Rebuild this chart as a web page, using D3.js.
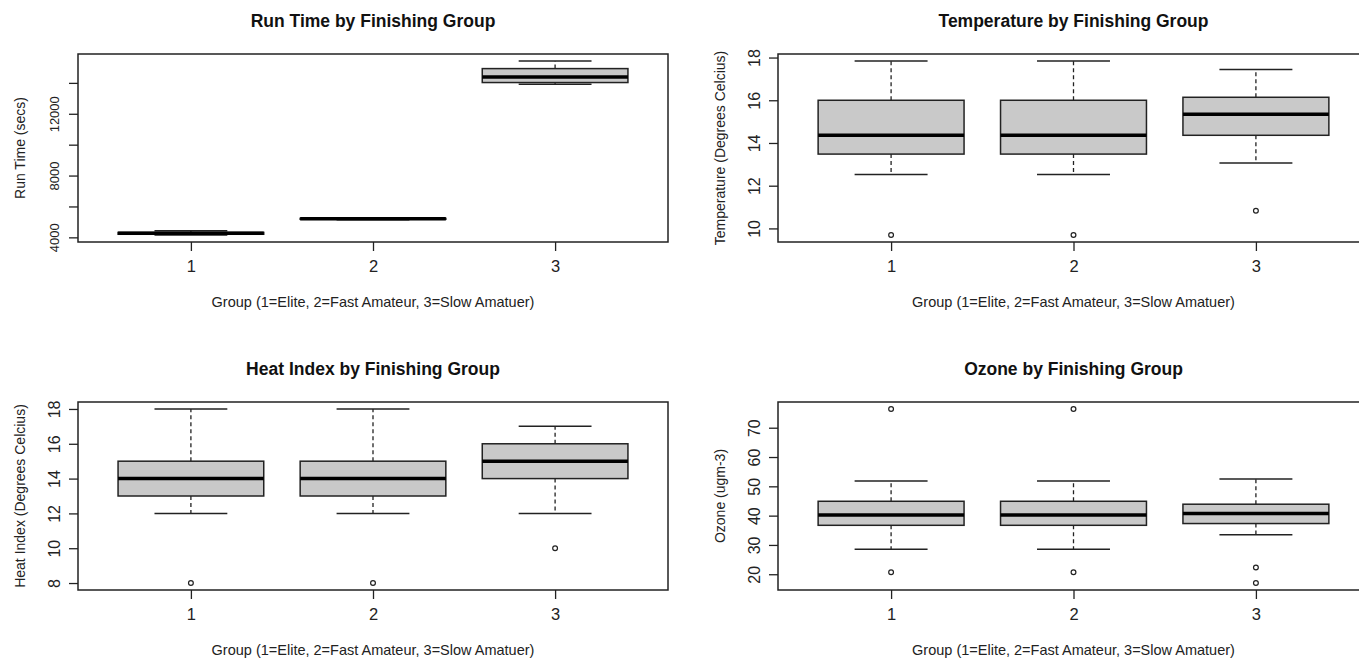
<!DOCTYPE html>
<html>
<head>
<meta charset="utf-8">
<script src="https://cdn.jsdelivr.net/npm/d3@7"></script>
<style>
  body { margin: 0; background: #fff; }
  svg { display: block; font-family: "Liberation Sans", Arial, sans-serif; }
</style>
</head>
<body>
<div id="chart"></div>
<script>
// groups on the x axis
const groups = [1, 2, 3];
const xTitle = "Group (1=Elite, 2=Fast Amateur, 3=Slow Amatuer)";

// box stats per group: [lower whisker, Q1, median, Q3, upper whisker]
const runTimeStats = [[4150, 4200, 4260, 4320, 4430], [5140, 5170, 5200, 5230, 5260], [13914, 14022, 14387, 14925, 15419]];
const runTimeOutliers = [[], [], []];
const runTimeTicks = [4000, 6000, 8000, 10000, 12000, 14000];
const runTimeTickLabels = ["4000", "", "8000", "", "12000", ""];

const tempStats = [[12.53, 13.48, 14.36, 16.0, 17.84], [12.53, 13.48, 14.36, 16.0, 17.84], [13.06, 14.36, 15.34, 16.14, 17.44]];
const tempOutliers = [[9.69], [9.69], [10.83]];
const tempTicks = [10, 12, 14, 16, 18];

const heatStats = [[12, 13, 14, 15, 18], [12, 13, 14, 15, 18], [12, 14, 15, 16, 17]];
const heatOutliers = [[8], [8], [10]];
const heatTicks = [8, 10, 12, 14, 16, 18];

const ozoneStats = [[28.5, 36.7, 40.2, 44.9, 51.8], [28.5, 36.7, 40.2, 44.9, 51.8], [33.5, 37.3, 40.7, 43.9, 52.5]];
const ozoneOutliers = [[76.4, 20.7], [76.4, 20.7], [22.3, 17.0]];
const ozoneTicks = [20, 30, 40, 50, 60, 70];

const W = 1359, H = 659;

const panels = [
  {title: "Run Time by Finishing Group", ylab: "Run Time (secs)", stats: runTimeStats, out: runTimeOutliers,
   ticks: runTimeTicks, labels: runTimeTickLabels, tickFont: 13, x: [78, 668], y: [242, 54]},
  {title: "Temperature by Finishing Group", ylab: "Temperature (Degrees Celcius)", stats: tempStats, out: tempOutliers,
   ticks: tempTicks, tickFont: 16, x: [778, 1369], y: [242, 54]},
  {title: "Heat Index by Finishing Group", ylab: "Heat Index (Degrees Celcius)", stats: heatStats, out: heatOutliers,
   ticks: heatTicks, tickFont: 16, x: [78, 668], y: [590, 402]},
  {title: "Ozone by Finishing Group", ylab: "Ozone (ugm-3)", stats: ozoneStats, out: ozoneOutliers,
   ticks: ozoneTicks, tickFont: 16, x: [778, 1369], y: [590, 402]}
];

const svg = d3.select("#chart").append("svg")
  .attr("width", W)
  .attr("height", H);

svg.append("rect").attr("width", W).attr("height", H).attr("fill", "#fff");

// R style range: data extent widened by 4%
const pad4 = ([a, b]) => [a - (b - a) * 0.04, b + (b - a) * 0.04];

panels.forEach(p => {
  const g = svg.append("g");
  const all = p.stats.flat().concat(p.out.flat());
  const y = d3.scaleLinear().domain(pad4(d3.extent(all))).range(p.y);
  const x = d3.scaleLinear().domain(pad4([0.5, groups.length + 0.5])).range(p.x);
  const bw = (x(2) - x(1)) * 0.8;
  const [top, bottom] = [p.y[1], p.y[0]];
  const [left, right] = p.x;

  // y axis
  const yAxis = d3.axisLeft(y)
    .tickValues(p.ticks)
    .tickSize(9)
    .tickFormat((d, i) => p.labels ? p.labels[i] : d);
  const ya = g.append("g").attr("transform", `translate(${left},0)`).call(yAxis);
  ya.select(".domain").remove();
  ya.selectAll("line").attr("stroke", "#222").attr("stroke-width", 1.3);
  ya.selectAll("text")
    .attr("x", null).attr("dy", "0.35em")
    .attr("text-anchor", "middle")
    .attr("transform", "translate(-24,0) rotate(-90)")
    .attr("font-size", p.tickFont)
    .attr("fill", "#222");

  // x axis
  const xAxis = d3.axisBottom(x).tickValues(groups).tickSize(9).tickFormat(d3.format("d"));
  const xa = g.append("g").attr("transform", `translate(0,${bottom})`).call(xAxis);
  xa.select(".domain").remove();
  xa.selectAll("line").attr("stroke", "#222").attr("stroke-width", 1.3);
  xa.selectAll("text").attr("y", 24).attr("dy", "0.35em").attr("font-size", 16.5).attr("fill", "#222");

  // boxes
  const bx = g.selectAll(".bx").data(p.stats).enter().append("g").attr("class", "bx");
  bx.append("line") // upper whisker
    .attr("x1", (d, i) => x(groups[i])).attr("x2", (d, i) => x(groups[i]))
    .attr("y1", d => y(d[3])).attr("y2", d => y(d[4]))
    .attr("stroke", "#222").attr("stroke-width", 1.3).attr("stroke-dasharray", "4,3");
  bx.append("line") // lower whisker
    .attr("x1", (d, i) => x(groups[i])).attr("x2", (d, i) => x(groups[i]))
    .attr("y1", d => y(d[1])).attr("y2", d => y(d[0]))
    .attr("stroke", "#222").attr("stroke-width", 1.3).attr("stroke-dasharray", "4,3");
  [0, 4].forEach(k => {
    bx.append("line")
      .attr("x1", (d, i) => x(groups[i]) - bw / 4).attr("x2", (d, i) => x(groups[i]) + bw / 4)
      .attr("y1", d => y(d[k])).attr("y2", d => y(d[k]))
      .attr("stroke", "#222").attr("stroke-width", 1.5);
  });
  bx.append("rect")
    .attr("x", (d, i) => x(groups[i]) - bw / 2).attr("width", bw)
    .attr("y", d => y(d[3])).attr("height", d => y(d[1]) - y(d[3]))
    .attr("fill", "#c9c9c9").attr("stroke", "#222").attr("stroke-width", 1.5);
  bx.append("line")
    .attr("x1", (d, i) => x(groups[i]) - bw / 2).attr("x2", (d, i) => x(groups[i]) + bw / 2)
    .attr("y1", d => y(d[2])).attr("y2", d => y(d[2]))
    .attr("stroke", "#000").attr("stroke-width", 3.5);

  // outliers
  const pts = p.out.flatMap((o, i) => o.map(v => ({g: groups[i], v})));
  g.selectAll(".pt").data(pts).enter().append("circle")
    .attr("cx", d => x(d.g)).attr("cy", d => y(d.v)).attr("r", 2.4)
    .attr("fill", "none").attr("stroke", "#222").attr("stroke-width", 1.2);

  // frame
  g.append("rect")
    .attr("x", left).attr("y", top).attr("width", right - left).attr("height", bottom - top)
    .attr("fill", "none").attr("stroke", "#222").attr("stroke-width", 1.5);

  // texts
  const mid = x(2);
  g.append("text").attr("x", mid).attr("y", top - 33).attr("dy", "0.35em")
    .attr("text-anchor", "middle").attr("font-size", 17.5).attr("font-weight", "bold").attr("fill", "#111")
    .text(p.title);
  g.append("text").attr("x", mid).attr("y", bottom + 60).attr("dy", "0.35em")
    .attr("text-anchor", "middle").attr("font-size", 14.5).attr("fill", "#222")
    .text(xTitle);
  g.append("text")
    .attr("transform", `translate(${left - 58},${(top + bottom) / 2}) rotate(-90)`)
    .attr("dy", "0.35em").attr("text-anchor", "middle").attr("font-size", 14).attr("fill", "#222")
    .text(p.ylab);
});
</script>
</body>
</html>
